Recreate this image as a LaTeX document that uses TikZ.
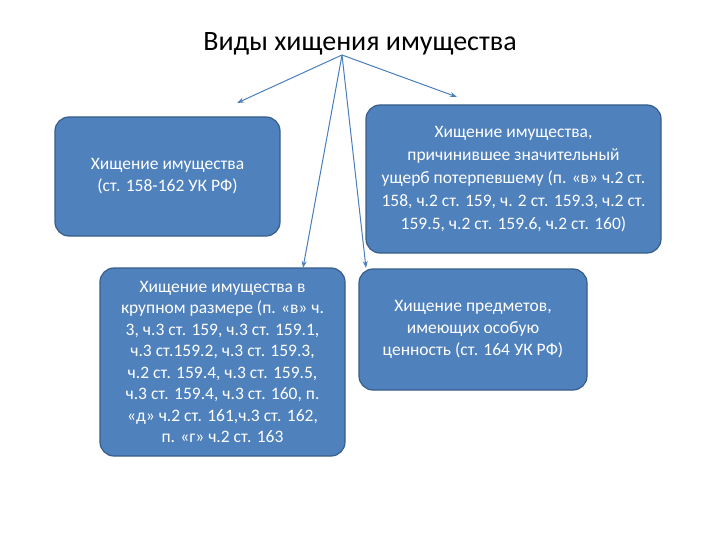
\documentclass[tikz,border=0pt]{standalone}
\usepackage{fontspec}
\setmainfont{Carlito}
\usetikzlibrary{arrows.meta}
\definecolor{boxfill}{HTML}{4F81BD}
\definecolor{boxline}{HTML}{385D8A}
\definecolor{arrowc}{HTML}{4A7EBB}
\tikzset{
  blk/.style={draw=boxline, line width=1.2pt, fill=boxfill, rounded corners=14pt,
    text=white, align=center, font=\fontsize{17.5}{22}\selectfont, inner sep=0pt},
  conn/.style={draw=arrowc, line width=1pt, -{Stealth[length=7pt,width=5pt]}}
}
\begin{document}
\begin{tikzpicture}[x=1pt,y=-1pt]
\useasboundingbox (0,0) rectangle (720,540);
\node[font=\fontsize{28}{32}\selectfont, anchor=base] (title) at (360,51) {Виды хищения имущества};
\coordinate (apex) at (342,55);
\node[blk, minimum width=225pt, minimum height=119pt] (b1) at (167.5,176.5)
  {Хищение имущества\\(ст. 158-162 УК РФ)};
\node[blk, minimum width=245pt, minimum height=188pt, font=\fontsize{17.5}{21.5}\selectfont] (b2) at (222.5,362)
  {Хищение имущества в\\крупном размере (п. «в» ч.\\3, ч.3 ст. 159, ч.3 ст. 159.1,\\ч.3 ст.159.2, ч.3 ст. 159.3,\\ч.2 ст. 159.4, ч.3 ст. 159.5,\\ч.3 ст. 159.4, ч.3 ст. 160, п.\\«д» ч.2 ст. 161,ч.3 ст. 162,\\п. «г» ч.2 ст. 163};
\node[blk, minimum width=295pt, minimum height=148pt, font=\fontsize{17.5}{23}\selectfont] (b3) at (513.5,179)
  {Хищение имущества,\\причинившее значительный\\ущерб потерпевшему (п. «в» ч.2 ст.\\158, ч.2 ст. 159, ч. 2 ст. 159.3, ч.2 ст.\\159.5, ч.2 ст. 159.6, ч.2 ст. 160)};
\node[blk, minimum width=228pt, minimum height=121pt] (b4) at (473,329.5)
  {Хищение предметов,\\имеющих особую\\ценность (ст. 164 УК РФ)};
\coordinate (eL) at (237,103);
\coordinate (eR) at (457,97);
\coordinate (eD1) at (303,268);
\coordinate (eD2) at (366,268);
\draw[conn] (apex) -- (eL);
\draw[conn] (apex) -- (eR);
\draw[conn] (apex) -- (eD1);
\draw[conn] (apex) -- (eD2);
\end{tikzpicture}
\end{document}
